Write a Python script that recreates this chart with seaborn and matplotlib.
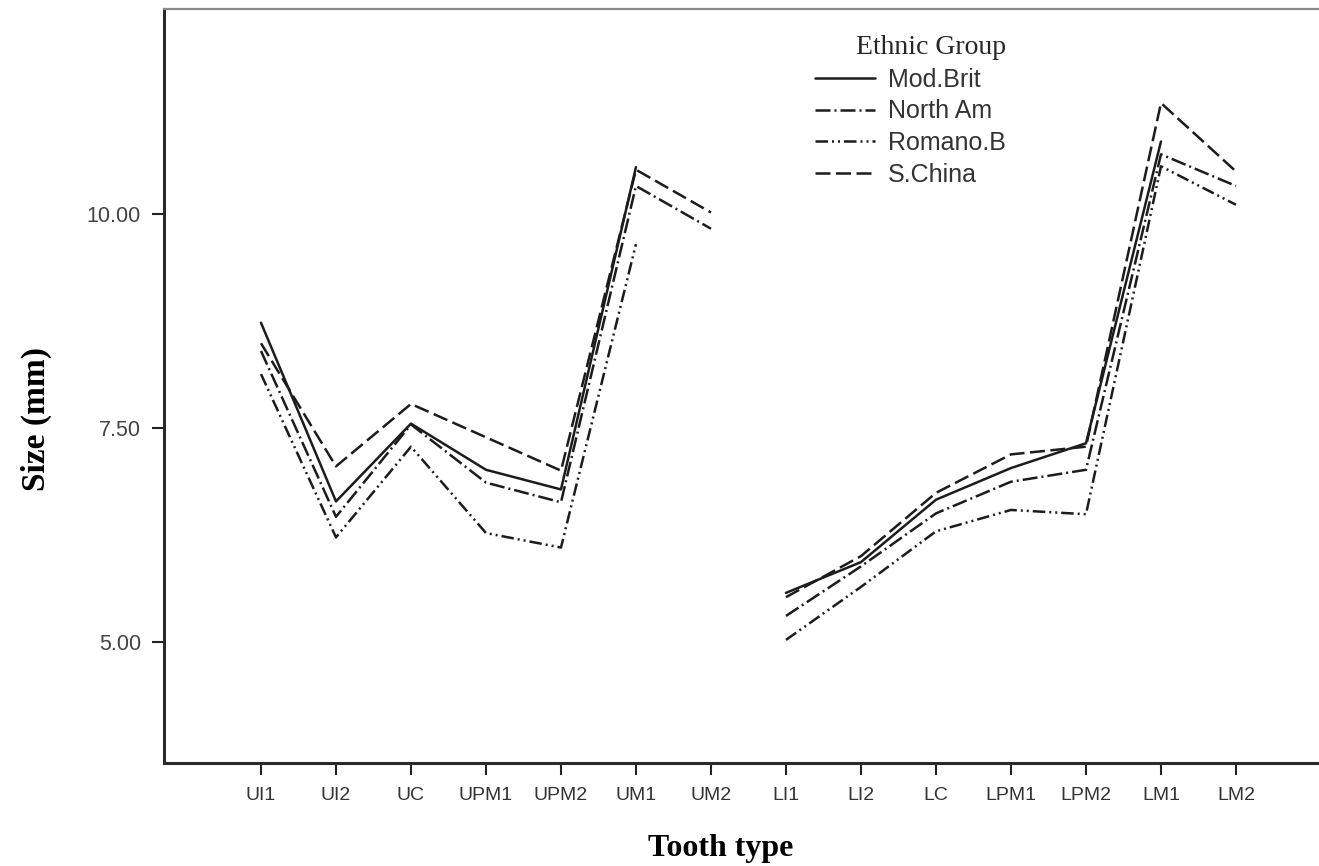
import numpy as np
import pandas as pd
import matplotlib
matplotlib.use("Agg")
import matplotlib.pyplot as plt
import seaborn as sns

# ---- data ----
teeth = ["UI1", "UI2", "UC", "UPM1", "UPM2", "UM1", "UM2",
         "LI1", "LI2", "LC", "LPM1", "LPM2", "LM1", "LM2"]
jaw = ["Upper"] * 7 + ["Lower"] * 7
groups = ["Mod.Brit", "North Am", "Romano.B", "S.China"]
mod_brit = [8.73, 6.64, 7.55, 7.01, 6.78, 10.55, np.nan,
            5.57, 5.93, 6.66, 7.03, 7.32, 10.85, np.nan]
north_am = [8.40, 6.46, 7.54, 6.86, 6.63, 10.33, 9.83,
            5.30, 5.88, 6.50, 6.87, 7.01, 10.70, 10.33]
romano_b = [8.13, 6.22, 7.28, 6.27, 6.10, 9.65, np.nan,
            5.02, 5.64, 6.29, 6.54, 6.49, 10.56, 10.11]
s_china = [8.49, 7.05, 7.78, 7.39, 7.00, 10.52, 10.02,
           5.52, 6.00, 6.74, 7.19, 7.28, 11.30, 10.50]
yticks = [5.00, 7.50, 10.00]

series = dict(zip(groups, [mod_brit, north_am, romano_b, s_china]))
rows = []
for g, vals in series.items():
    for i, (t, j, v) in enumerate(zip(teeth, jaw, vals)):
        rows.append({"pos": i, "tooth": t, "jaw": j, "size": v, "group": g})
df = pd.DataFrame(rows).dropna()

# ---- figure ----
W, H = 1319, 866
fig = plt.figure(figsize=(W / 100, H / 100), dpi=100)
sns.set_style("white")
ax = fig.add_axes([164 / W, (H - 763) / H, (W - 164) / W, (763 - 9) / H])

line_col = "#1c1c1c"
palette = {g: line_col for g in groups}
dashes = {
    "Mod.Brit": "",
    "North Am": (6, 1.6, 0.8, 1.6),
    "Romano.B": (5, 1.6, 0.8, 1.6, 0.8, 1.6),
    "S.China": (6, 2.2),
}
sns.lineplot(data=df, x="pos", y="size", hue="group", style="group",
             units="jaw", estimator=None, palette=palette, dashes=dashes,
             hue_order=groups, style_order=groups, linewidth=1.8, ax=ax,
             legend=True)

ax.set_xlim(-1.293, 14.107)
ax.set_ylim(3.58, 12.40)
ax.set_xticks(range(len(teeth)))
ax.set_xticklabels(teeth)
ax.set_yticks(yticks)
ax.set_yticklabels([f"{v:.2f}" for v in yticks])

for lab in ax.get_xticklabels():
    lab.set_family("Liberation Sans")
    lab.set_fontsize(14)
    lab.set_color("#333333")
for lab in ax.get_yticklabels():
    lab.set_family("Liberation Sans")
    lab.set_fontsize(15.5)
    lab.set_color("#444444")

ax.tick_params(axis="both", direction="out", length=8.5, width=1.5,
               color="#222222", bottom=True, left=True)
ax.tick_params(axis="x", pad=9)
ax.tick_params(axis="y", pad=8)

for s in ["left", "bottom"]:
    ax.spines[s].set_color("#2a2a2a")
    ax.spines[s].set_linewidth(2.2)
ax.spines["top"].set_color("#8a8a8a")
ax.spines["top"].set_linewidth(1.6)
ax.spines["right"].set_visible(False)

ax.set_xlabel("Tooth type", fontsize=23, fontweight="bold",
              family="Liberation Serif", color="black")
ax.set_ylabel("Size (mm)", fontsize=24, fontweight="bold",
              family="Liberation Serif", color="black")
ax.xaxis.set_label_coords(0.482, -0.094)
ax.yaxis.set_label_coords(-0.097, 0.456)

handles, labels = ax.get_legend_handles_labels()
hl = [(h, l) for h, l in zip(handles, labels) if l in groups]
leg = ax.legend([h for h, _ in hl], [l for _, l in hl],
                title="Ethnic Group", loc="upper left",
                bbox_to_anchor=(792 / W, 1 - 13 / H),
                bbox_transform=fig.transFigure, frameon=False,
                handlelength=2.4, handletextpad=0.55, labelspacing=0.3,
                alignment="right",
                prop={"family": "Liberation Sans", "size": 18})
leg.get_title().set_family("Liberation Serif")
leg.get_title().set_fontsize(20)
for t in leg.get_texts():
    t.set_color("#333333")
for h in leg.get_lines():
    h.set_linewidth(1.8)

fig.savefig("out.png", dpi=100)
